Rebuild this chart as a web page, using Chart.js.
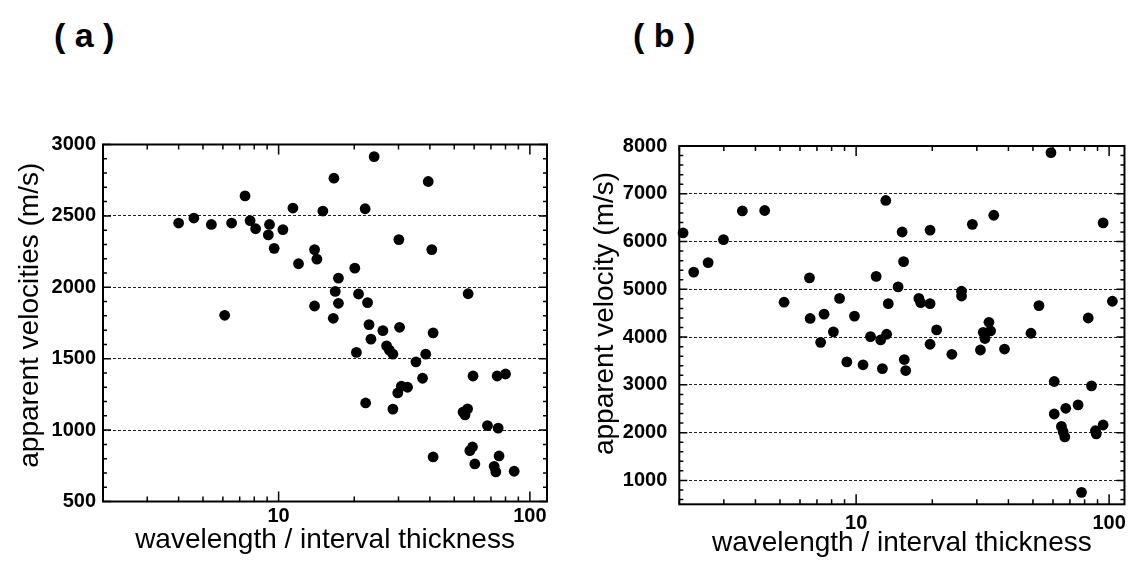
<!DOCTYPE html>
<html>
<head>
<meta charset="utf-8">
<script src="https://cdn.jsdelivr.net/npm/chart.js@4.4.0/dist/chart.umd.min.js"></script>
<style>
  html, body { margin: 0; padding: 0; background: #fff; }
  body { width: 1133px; height: 571px; position: relative; overflow: hidden; }
  .panel { position: absolute; top: 0; height: 571px; }
  .tag { position: absolute; top: 18px; font: bold 34px "Liberation Sans", Arial, sans-serif; line-height: 1; white-space: pre; color: #000; }
</style>
</head>
<body>
<div class="tag" style="left:54px">( a )</div>
<div class="tag" style="left:633px">( b )</div>
<div class="panel" style="left:0;width:566px"><canvas id="chartA" width="566" height="571"></canvas></div>
<div class="panel" style="left:566px;width:567px"><canvas id="chartB" width="567" height="571"></canvas></div>
<script>
// panel (a): wavelength / interval thickness vs apparent velocities
const ratioA = [4.0, 4.6, 5.4, 6.5, 7.35, 7.7, 8.1, 9.2, 9.1, 10.4, 9.6, 11.4, 15.0, 16.6, 24.0, 22.1, 39.4, 30.1, 40.7, 13.9,
  14.2, 12.0, 20.1, 17.3, 56.8, 16.8, 20.8, 17.3, 22.6, 13.9, 6.1, 16.5, 22.9, 26.0, 30.3, 41.2, 23.3, 26.9, 27.6, 28.5,
  20.4, 35.2, 38.5, 37.4, 30.8, 32.6, 29.8, 22.2, 28.5, 59.4, 74.1, 80.0, 54.2, 56.5, 55.2, 67.8, 74.8, 59.1, 57.7, 41.2,
  60.4, 75.4, 72.1, 73.2, 86.6];
const velA = [2450, 2485, 2440, 2450, 2640, 2467, 2410, 2440, 2367, 2404, 2273, 2555, 2534, 2764, 2915, 2550, 2741, 2334, 2264, 2264,
  2197, 2165, 2134, 2064, 1955, 1971, 1953, 1888, 1893, 1869, 1804, 1783, 1739, 1697, 1720, 1681, 1637, 1590, 1560, 1532,
  1544, 1478, 1532, 1363, 1307, 1300, 1260, 1190, 1147, 1379, 1379, 1393, 1126, 1149, 1107, 1032, 1014, 882, 856, 812,
  763, 819, 746, 707, 712];

// panel (b): wavelength / interval thickness vs apparent velocity
const ratioB = [2.07, 2.28, 2.60, 2.99, 3.55, 4.35, 13.1, 58.9, 15.2, 19.6, 28.8, 35.0, 94.7, 15.4, 6.54, 12.0, 14.65, 5.19, 8.6, 13.4,
  17.7, 18.0, 19.6, 26.1, 26.1, 52.8, 103, 6.58, 7.47, 9.85, 82.7, 8.13, 11.4, 12.5, 13.2, 20.8, 33.5, 31.8, 34.0, 32.3,
  49.1, 7.24, 19.6, 31.0, 38.6, 9.19, 10.65, 12.7, 15.5, 15.7, 23.9, 60.7, 85.2, 60.7, 67.4, 75.4, 64.8, 65.8, 66.8, 88.3,
  89.0, 94.7, 77.8];
const velB = [6180, 5360, 5560, 6040, 6640, 6650, 6860, 7860, 6200, 6240, 6360, 6550, 6390, 5580, 5240, 5270, 5050, 4730, 4810, 4700,
  4810, 4720, 4700, 4960, 4860, 4660, 4750, 4390, 4480, 4440, 4400, 4110, 4010, 3940, 4060, 4150, 4310, 4100, 4130, 3970,
  4080, 3890, 3850, 3730, 3750, 3480, 3420, 3340, 3530, 3300, 3640, 3070, 2980, 2390, 2510, 2580, 2130, 2020, 1910, 2040,
  1975, 2160, 750];

// ticks
const xTickValues = [2, 3, 4, 5, 6, 7, 8, 9, 10, 20, 30, 40, 50, 60, 70, 80, 90, 100];
const xTickLabels = [10, 100];
const yTicksA = [500, 1000, 1500, 2000, 2500, 3000];
const yTicksB = [1000, 2000, 3000, 4000, 5000, 6000, 7000, 8000];

// box + inward tick marks on all four sides
const frameTicks = {
  id: 'frameTicks',
  beforeDatasetsDraw(chart, args, o) {
    const {ctx, chartArea: a, scales: {x, y}} = chart;
    ctx.save();
    ctx.strokeStyle = '#000';
    ctx.lineWidth = 1.5;
    ctx.beginPath();
    x.ticks.forEach(t => {
      const px = x.getPixelForValue(t.value);
      const len = xTickLabels.includes(t.value) ? 10 : 5;
      ctx.moveTo(px, a.bottom); ctx.lineTo(px, a.bottom - len);
      ctx.moveTo(px, a.top); ctx.lineTo(px, a.top + len);
    });
    for (let v = Math.ceil(y.min / o.minorStep) * o.minorStep; v <= y.max; v += o.minorStep) {
      const py = y.getPixelForValue(v);
      const len = v % o.majorStep === 0 ? 8 : 4;
      ctx.moveTo(a.left, py); ctx.lineTo(a.left + len, py);
      ctx.moveTo(a.right, py); ctx.lineTo(a.right - len, py);
    }
    ctx.stroke();
    ctx.lineWidth = 2;
    ctx.strokeRect(a.left, a.top, a.right - a.left, a.bottom - a.top);
    ctx.restore();
  }
};

function makeChart(id, xs, ys, g) {
  const tickFont = {family: '"Liberation Sans", Arial, sans-serif', size: 20, weight: 'bold'};
  const titleFont = {family: '"Liberation Sans", Arial, sans-serif', size: 28};
  return new Chart(document.getElementById(id), {
    type: 'scatter',
    data: {
      datasets: [{
        data: xs.map((v, i) => ({x: v, y: ys[i]})),
        backgroundColor: '#000',
        borderWidth: 0,
        pointRadius: 5.4,
        clip: false
      }]
    },
    options: {
      responsive: false,
      animation: false,
      layout: {padding: {left: 0, right: g.padRight, top: g.padTop, bottom: 0}},
      plugins: {
        legend: {display: false},
        tooltip: {enabled: false},
        frameTicks: {minorStep: g.minorStep, majorStep: g.majorStep}
      },
      scales: {
        x: {
          type: 'logarithmic',
          min: 2,
          max: g.xMax,
          afterBuildTicks: s => { s.ticks = xTickValues.map(v => ({value: v})); },
          afterFit: s => { s.height = g.xHeight; },
          grid: {display: false, drawTicks: false},
          border: {display: false},
          ticks: {
            autoSkip: false, maxRotation: 0, padding: g.xPad, color: '#000', font: tickFont,
            callback: v => xTickLabels.includes(v) ? String(v) : ''
          },
          title: {display: true, text: 'wavelength / interval thickness', color: '#000', font: titleFont,
            padding: {top: 0, bottom: g.xTitlePad}}
        },
        y: {
          min: g.yMin,
          max: g.yMax,
          afterBuildTicks: s => { s.ticks = g.yTicks.map(v => ({value: v})); },
          afterFit: s => { s.width = g.yWidth; },
          grid: {color: '#222', lineWidth: 1, drawTicks: false},
          border: {display: false, dash: [3, 2]},
          ticks: {padding: g.yPad, color: '#000', font: tickFont, callback: v => String(v)},
          title: {display: true, text: g.yTitle, color: '#000', font: titleFont,
            padding: {top: g.yTitlePad, bottom: 0}}
        }
      }
    },
    plugins: [frameTicks]
  });
}

// leading spaces nudge the rotated titles up a little, as in the original figure
makeChart('chartA', ratioA, velA, {
  yTitle: '  apparent velocities (m/s)', yTicks: yTicksA, yMin: 500, yMax: 3000, xMax: 117,
  minorStep: 100, majorStep: 500,
  yWidth: 103, xHeight: 69.5, padTop: 144.5, padRight: 19,
  yPad: 7, xPad: 3, yTitlePad: 13, xTitlePad: 14
});

makeChart('chartB', ratioB, velB, {
  yTitle: '   apparent velocity (m/s)', yTicks: yTicksB, yMin: 500, yMax: 8000, xMax: 115,
  minorStep: 200, majorStep: 1000,
  yWidth: 113.3, xHeight: 66.7, padTop: 146, padRight: 6,
  yPad: 12, xPad: 7, yTitlePad: 22, xTitlePad: 11
});
</script>
</body>
</html>
